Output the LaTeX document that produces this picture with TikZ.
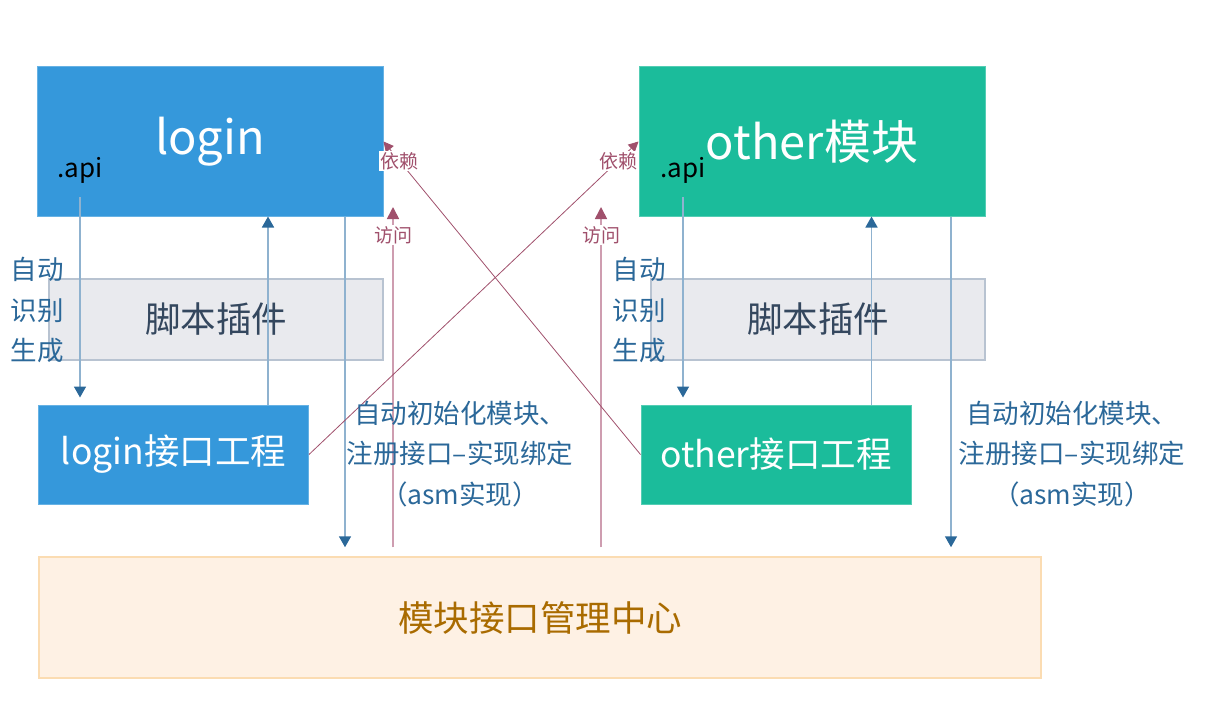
\documentclass[tikz,border=0pt]{standalone}
\usepackage{fontspec}
\setmainfont{Noto Sans CJK SC}
\usetikzlibrary{arrows.meta, positioning, calc}
\definecolor{loginblue}{HTML}{3598DB}
\definecolor{otherteal}{HTML}{1BBC9B}
\definecolor{plugfill}{HTML}{E9EAEE}
\definecolor{plugdraw}{HTML}{B8C3D1}
\definecolor{plugtext}{HTML}{34475E}
\definecolor{hubfill}{HTML}{FEF1E4}
\definecolor{hubdraw}{HTML}{FBDCB2}
\definecolor{hubtext}{HTML}{A96B00}
\definecolor{linkblue}{HTML}{8FB2CF}
\definecolor{tipblue}{HTML}{2B6899}
\definecolor{linkpink}{HTML}{CE9DB0}
\definecolor{tippink}{HTML}{A0506C}
\tikzset{
  modbox/.style={
    rectangle, inner sep=0pt,
    minimum width=346pt, minimum height=149pt,
    fill=#1, draw=#1!75!white, line width=1pt,
    text=white, font=\fontsize{47}{52}\selectfont
  },
  ifbox/.style={
    rectangle, inner sep=0pt,
    minimum width=270pt, minimum height=99pt,
    fill=#1, draw=#1!75!white, line width=1pt,
    text=white, font=\fontsize{35.5}{40}\selectfont
  },
  plugbox/.style={
    rectangle, inner sep=0pt,
    minimum width=334pt, minimum height=81pt,
    fill=plugfill, draw=plugdraw, line width=1.2pt,
    text=plugtext, font=\fontsize{35.5}{40}\selectfont
  },
  hubbox/.style={
    rectangle, inner sep=0pt,
    minimum width=1002pt, minimum height=121pt,
    fill=hubfill, draw=hubdraw, line width=1.5pt,
    text=hubtext, font=\fontsize{35.5}{40}\selectfont
  },
  apilabel/.style={inner sep=0pt, text=black, font=\fontsize{26}{30}\selectfont},
  notelabel/.style={inner sep=0pt, align=center, text=tipblue, font=\fontsize{26.5}{40.5}\selectfont},
  linklabel/.style={inner sep=1pt, fill=white, text=tippink, font=\fontsize{19}{22}\selectfont},
  bluearrow/.style={line width=1.6pt, draw=linkblue, -{Triangle[length=11pt, width=12pt, color=tipblue]}},
  pinkarrow/.style={line width=1.6pt, draw=linkpink, -{Triangle[length=12pt, width=12pt, color=tippink]}},
  pinkline/.style={line width=0.8pt, draw=tippink, -{Triangle[length=10pt, width=10pt, color=tippink]}},
}

\begin{document}
\begin{tikzpicture}[x=1pt, y=-1pt]
    \useasboundingbox (0,0) rectangle (1214,722);
    % modules
    \node[modbox=loginblue]  (login) at (210,141.5) {login};
    \node[modbox=otherteal]  (other) at (812,141.5) {other模块};
    \node[apilabel] (apiL) at (80,170)  {.api};
    \node[apilabel] (apiR) at (683,170) {.api};
    \node[plugbox] (plugL) at (216,319.5) {脚本插件};
    \node[plugbox] (plugR) at (818,319.5) {脚本插件};
    \node[ifbox=loginblue] (loginif) at (173.5,454.5) {login接口工程};
    \node[ifbox=otherteal] (otherif) at (776,454.5)   {other接口工程};
    \node[hubbox] (hub) at (540,617.5) {模块接口管理中心};

    % blue connectors
    \draw[bluearrow, shorten <=14pt, shorten >=7pt] (apiL.south) -- (apiL.south |- loginif.north);
    \draw[bluearrow, shorten <=14pt, shorten >=7pt] (apiR.south) -- (apiR.south |- otherif.north);
    \draw[bluearrow] ([xshift=94.5pt]loginif.north) -- ([xshift=94.5pt]loginif.north |- login.south);
    \draw[bluearrow] ([xshift=95.5pt]otherif.north) -- ([xshift=95.5pt]otherif.north |- other.south);
    \draw[bluearrow, shorten >=9pt] ([xshift=135pt]login.south) -- ([xshift=135pt]login.south |- hub.north);
    \draw[bluearrow, shorten >=9pt] ([xshift=139pt]other.south) -- ([xshift=139pt]other.south |- hub.north);

    % pink connectors
    \coordinate (visitL) at (393,207);
    \coordinate (visitR) at (601,207);
    \draw[pinkarrow, shorten <=9pt] (hub.north -| visitL) -- (visitL)
        node[linklabel, pos=0.92] (visitLtxt) {访问};
    \draw[pinkarrow, shorten <=9pt] (hub.north -| visitR) -- (visitR)
        node[linklabel, pos=0.92] (visitRtxt) {访问};
    \draw[pinkline] (otherif.west) -- (login.east)
        node[linklabel, pos=0.938] (depL) {依赖};
    \draw[pinkline] (loginif.east) -- (other.west)
        node[linklabel, pos=0.938] (depR) {依赖};

    % notes
    \node[notelabel] (autoL) at (37,310)  {自动\\识别\\生成};
    \node[notelabel] (autoR) at (639,310) {自动\\识别\\生成};
    \node[notelabel] (initL) at (460,454)  {自动初始化模块、\\注册接口–实现绑定\\（asm实现）};
    \node[notelabel] (initR) at (1072,454) {自动初始化模块、\\注册接口–实现绑定\\（asm实现）};
\end{tikzpicture}
\end{document}
